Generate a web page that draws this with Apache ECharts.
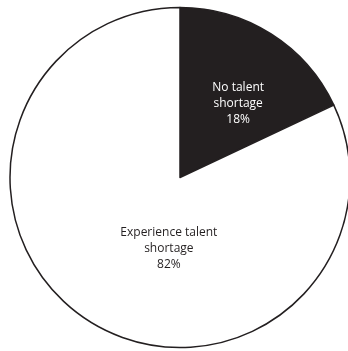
<!DOCTYPE html>
<html>
<head>
<meta charset="utf-8">
<script src="https://cdn.jsdelivr.net/npm/echarts@6/dist/echarts.min.js"></script>
<style>
  html, body { margin: 0; padding: 0; background: #fff; }
  #chart { width: 348px; height: 351px; }
</style>
</head>
<body>
<div id="chart"></div>
<script>
// Share of respondents by talent-shortage experience
const categories = ['No talent\nshortage', 'Experience talent\nshortage'];
const shares = [18, 82];
const sliceColors = ['#231f20', '#ffffff'];
const labelColors = ['#ffffff', '#231f20'];
const labelOffsets = [[11, 0], [36, -3]];

const chart = echarts.init(document.getElementById('chart'), null, { renderer: 'canvas' });

chart.setOption({
  animation: false,
  backgroundColor: '#ffffff',
  series: [{
    type: 'pie',
    center: [180, 177.5],
    radius: [0, 170],
    startAngle: 90,
    clockwise: true,
    avoidLabelOverlap: false,
    emphasis: { disabled: true },
    data: categories.map((name, i) => ({
      name,
      value: shares[i],
      itemStyle: {
        color: sliceColors[i],
        borderColor: '#231f20',
        borderWidth: 1.5
      },
      label: {
        color: labelColors[i],
        offset: labelOffsets[i]
      }
    })),
    label: {
      show: true,
      position: 'inside',
      fontFamily: 'Open Sans',
      fontSize: 12,
      lineHeight: 16,
      align: 'center',
      formatter: p => p.name + '\n' + p.value + '%'
    },
    labelLine: { show: false }
  }]
});
</script>
</body>
</html>
